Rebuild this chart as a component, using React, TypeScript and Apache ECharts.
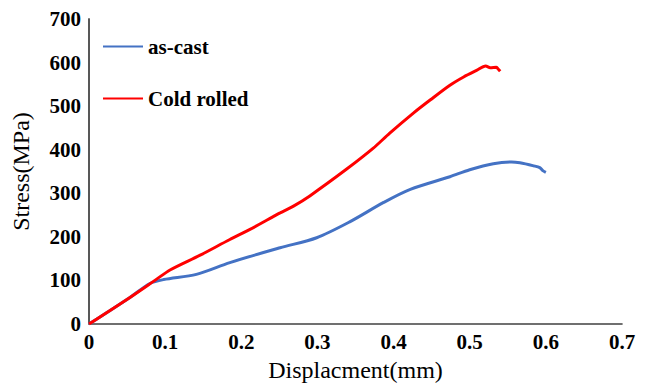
import React, { useEffect, useRef } from "react";
import * as echarts from "echarts";

const asCastX = [0, 0.0538, 0.08, 0.098, 0.141, 0.185, 0.251, 0.299, 0.343, 0.387, 0.422, 0.474, 0.5, 0.531, 0.555, 0.566, 0.584, 0.592, 0.596, 0.6];
const asCastY = [0, 61, 93, 102, 114, 141, 175, 198, 235, 279, 309, 338, 354, 368, 372, 370, 363, 359, 352, 348];
const rolledX = [0, 0.0538, 0.0889, 0.1064, 0.146, 0.185, 0.2114, 0.251, 0.268, 0.29, 0.338, 0.373, 0.395, 0.426, 0.448, 0.474, 0.492, 0.509, 0.521, 0.527, 0.535, 0.538, 0.54];
const rolledY = [0, 61, 103, 124, 158, 194, 217, 255, 270, 294, 355, 403, 438, 484, 514, 548, 567, 582, 592, 588, 589, 584, 580];
const seriesNames = ["as-cast", "Cold rolled"];

const pairs = (xs: number[], ys: number[]) => xs.map((x, i) => [x, ys[i]]);
const SERIF = "Liberation Serif";

export default function App() {
  const ref = useRef<HTMLDivElement>(null);
  useEffect(() => {
    const chart = echarts.init(ref.current!, null, { renderer: "svg" });
    const tickFont = { fontFamily: SERIF, fontWeight: "bold" as const, fontSize: 21, color: "#000" };
    chart.setOption({
      animation: false,
      grid: { left: 89, top: 19, right: 25, bottom: 60 },
      legend: {
        orient: "vertical",
        left: 103,
        top: 36,
        padding: 0,
        itemWidth: 40,
        itemHeight: 14,
        itemGap: 31,
        textStyle: { fontFamily: SERIF, fontWeight: "bold", fontSize: 21, color: "#000", padding: [0, 0, 0, 0] },
        data: seriesNames.map((n) => ({ name: n, icon: "path://M0,6 L40,6 L40,8 L0,8 Z" })),
      },
      xAxis: [
        {
          type: "value",
          min: 0,
          max: 0.7,
          interval: 0.1,
          name: "Displacment(mm)",
          nameLocation: "middle",
          nameGap: 34,
          nameTextStyle: { fontFamily: SERIF, fontSize: 24, color: "#000" },
          axisLine: { show: true, lineStyle: { color: "#C0C0C0", width: 1.5 } },
          axisTick: { show: false },
          splitLine: { show: false },
          axisLabel: { ...tickFont, margin: 7 },
        },
        {
          type: "value",
          position: "top",
          min: 0,
          max: 0.7,
          axisLine: { show: true, lineStyle: { color: "#505050", width: 1.5 } },
          axisTick: { show: false },
          axisLabel: { show: false },
          splitLine: { show: false },
        },
      ],
      yAxis: [
        {
          type: "value",
          min: 0,
          max: 700,
          interval: 100,
          name: "Stress(MPa)",
          nameLocation: "middle",
          nameGap: 56,
          nameTextStyle: { fontFamily: SERIF, fontSize: 24, color: "#000" },
          axisLine: { show: true, lineStyle: { color: "#404040", width: 1.5 } },
          axisTick: { show: false },
          splitLine: { show: false },
          axisLabel: { ...tickFont, margin: 8 },
        },
        {
          type: "value",
          position: "right",
          min: 0,
          max: 700,
          axisLine: { show: true, lineStyle: { color: "#505050", width: 1.5 } },
          axisTick: { show: false },
          axisLabel: { show: false },
          splitLine: { show: false },
        },
      ],
      series: [
        {
          name: seriesNames[0],
          type: "line",
          data: pairs(asCastX, asCastY),
          showSymbol: false,
          smooth: 0.3,
          lineStyle: { color: "#4472C4", width: 3 },
          itemStyle: { color: "#4472C4" },
          z: 2,
        },
        {
          name: seriesNames[1],
          type: "line",
          data: pairs(rolledX, rolledY),
          showSymbol: false,
          smooth: 0.3,
          lineStyle: { color: "#FF0000", width: 3 },
          itemStyle: { color: "#FF0000" },
          z: 3,
        },
      ],
    });
    return () => chart.dispose();
  }, []);
  return <div ref={ref} style={{ width: 647, height: 387, position: "absolute", left: 0, top: 0, background: "#fff" }} />;
}
